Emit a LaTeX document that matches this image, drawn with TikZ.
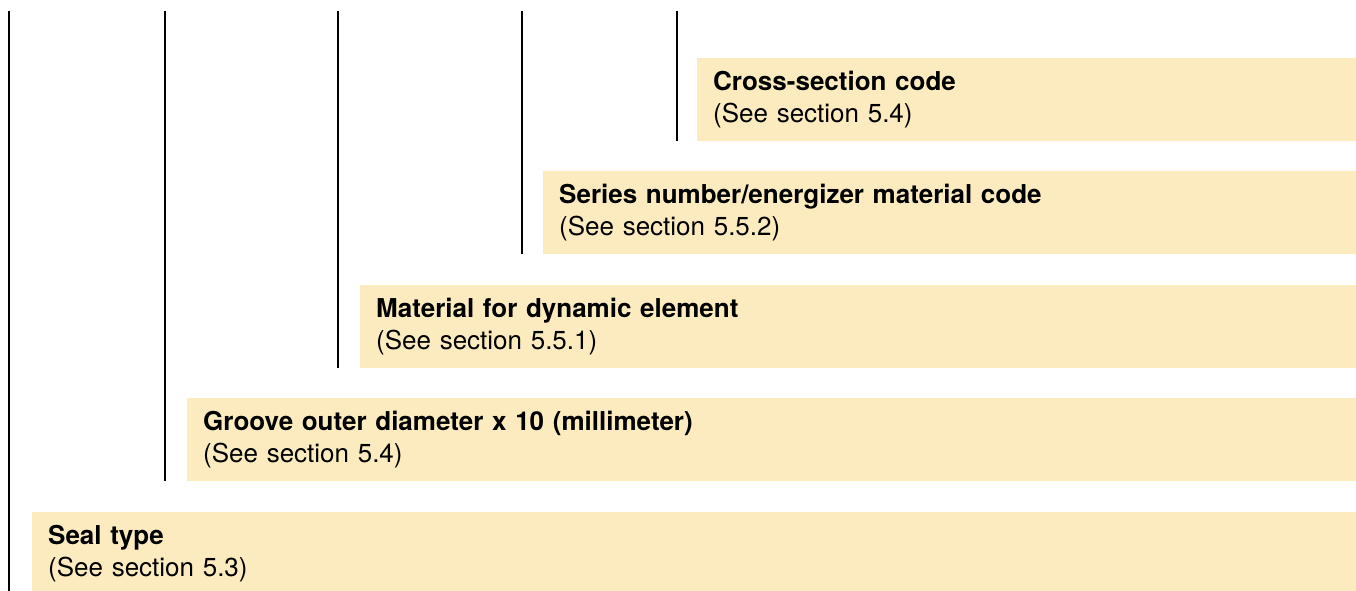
\documentclass[tikz,border=0pt]{standalone}
\usepackage{fontspec}
\setmainfont{TeX Gyre Heros}
\usepackage{tikz}
\usetikzlibrary{positioning,calc}
\definecolor{boxfill}{RGB}{253,235,192}

\tikzset{
  codebox/.style={fill=boxfill, anchor=north west, minimum height=83pt,
    inner xsep=16pt, inner ysep=0pt, align=left,
    minimum width=#1, text width=#1-32pt,
    font=\fontsize{26}{32}\selectfont},
  lead/.style={line width=2.4pt, black}
}

\begin{document}
\begin{tikzpicture}[x=1pt,y=-1pt]
\useasboundingbox (0,0) rectangle (1356,590);
% code boxes
\node[codebox=659pt] (cs) at (697,58) {\textbf{Cross-section code}\\(See section 5.4)};
\node[codebox=813pt] (ser) at (543,171) {\textbf{Series number/energizer material code}\\(See section 5.5.2)};
\node[codebox=996pt] (mat) at (360,285) {\textbf{Material for dynamic element}\\(See section 5.5.1)};
\node[codebox=1169pt] (grv) at (187,398) {\textbf{Groove outer diameter x 10 (millimeter)}\\(See section 5.4)};
\node[codebox=1324pt] (seal) at (32,512) {\textbf{Seal type}\\(See section 5.3)};
% leader lines
\coordinate (t1) at (9,11);
\coordinate (t2) at (165,11);
\coordinate (t3) at (338,11);
\coordinate (t4) at (522,11);
\coordinate (t5) at (677,11);
\draw[lead] (t1) -- (t1 |- seal.south);
\draw[lead] (t2) -- (t2 |- grv.south);
\draw[lead] (t3) -- (t3 |- mat.south);
\draw[lead] (t4) -- (t4 |- ser.south);
\draw[lead] (t5) -- (t5 |- cs.south);
\end{tikzpicture}
\end{document}
